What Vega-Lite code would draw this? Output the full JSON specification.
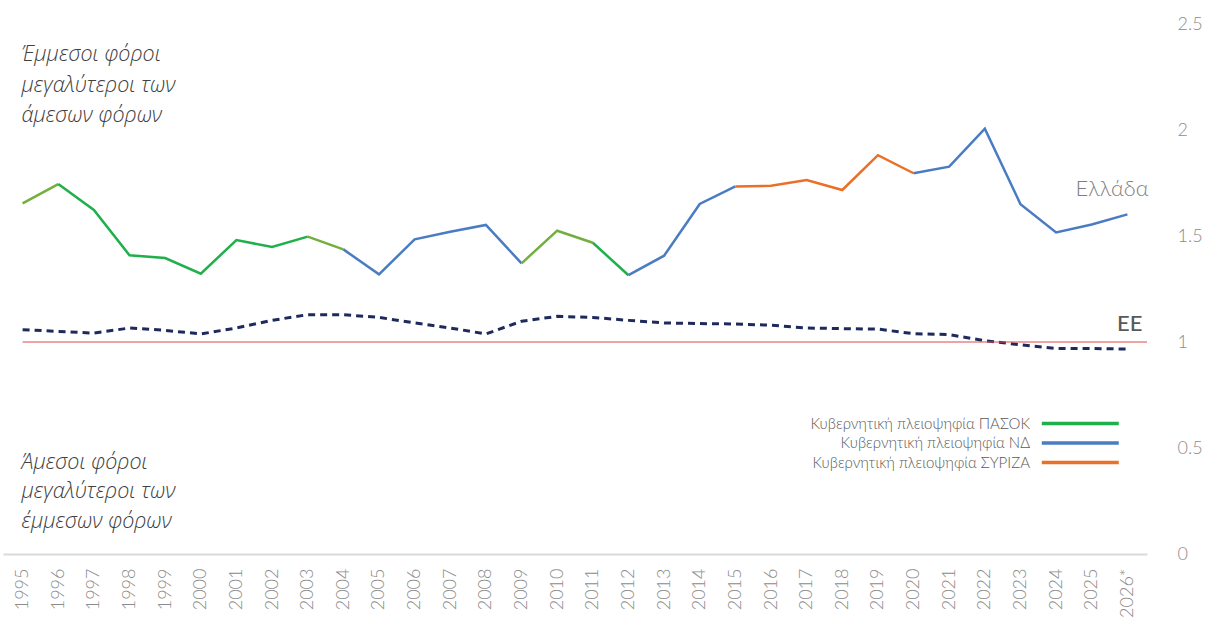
{
  "$schema": "https://vega.github.io/schema/vega-lite/v6.json",
  "width": 1144,
  "height": 530,
  "autosize": {"type": "none"},
  "padding": {"left": 3, "top": 24, "right": 68, "bottom": 67},
  "config": {"view": {"stroke": null}, "font": "Lato"},
  "datasets": {
    "greece": [
      {"year": "1995", "value": 1.654, "seg": "s1", "party": "μετάβαση"},
      {"year": "1996", "value": 1.745, "seg": "s1", "party": "μετάβαση"},
      {"year": "1996", "value": 1.745, "seg": "s2", "party": "ΠΑΣΟΚ"},
      {"year": "1997", "value": 1.623, "seg": "s2", "party": "ΠΑΣΟΚ"},
      {"year": "1998", "value": 1.409, "seg": "s2", "party": "ΠΑΣΟΚ"},
      {"year": "1999", "value": 1.396, "seg": "s2", "party": "ΠΑΣΟΚ"},
      {"year": "2000", "value": 1.322, "seg": "s2", "party": "ΠΑΣΟΚ"},
      {"year": "2001", "value": 1.481, "seg": "s2", "party": "ΠΑΣΟΚ"},
      {"year": "2002", "value": 1.448, "seg": "s2", "party": "ΠΑΣΟΚ"},
      {"year": "2003", "value": 1.497, "seg": "s2", "party": "ΠΑΣΟΚ"},
      {"year": "2003", "value": 1.497, "seg": "s3", "party": "μετάβαση"},
      {"year": "2004", "value": 1.437, "seg": "s3", "party": "μετάβαση"},
      {"year": "2004", "value": 1.437, "seg": "s4", "party": "ΝΔ"},
      {"year": "2005", "value": 1.319, "seg": "s4", "party": "ΝΔ"},
      {"year": "2006", "value": 1.484, "seg": "s4", "party": "ΝΔ"},
      {"year": "2007", "value": 1.520, "seg": "s4", "party": "ΝΔ"},
      {"year": "2008", "value": 1.552, "seg": "s4", "party": "ΝΔ"},
      {"year": "2009", "value": 1.371, "seg": "s4", "party": "ΝΔ"},
      {"year": "2009", "value": 1.371, "seg": "s5", "party": "μετάβαση"},
      {"year": "2010", "value": 1.525, "seg": "s5", "party": "μετάβαση"},
      {"year": "2011", "value": 1.468, "seg": "s5", "party": "μετάβαση"},
      {"year": "2011", "value": 1.468, "seg": "s6", "party": "ΠΑΣΟΚ"},
      {"year": "2012", "value": 1.315, "seg": "s6", "party": "ΠΑΣΟΚ"},
      {"year": "2012", "value": 1.315, "seg": "s7", "party": "ΝΔ"},
      {"year": "2013", "value": 1.407, "seg": "s7", "party": "ΝΔ"},
      {"year": "2014", "value": 1.651, "seg": "s7", "party": "ΝΔ"},
      {"year": "2015", "value": 1.734, "seg": "s7", "party": "ΝΔ"},
      {"year": "2015", "value": 1.734, "seg": "s8", "party": "ΣΥΡΙΖΑ"},
      {"year": "2016", "value": 1.737, "seg": "s8", "party": "ΣΥΡΙΖΑ"},
      {"year": "2017", "value": 1.764, "seg": "s8", "party": "ΣΥΡΙΖΑ"},
      {"year": "2018", "value": 1.717, "seg": "s8", "party": "ΣΥΡΙΖΑ"},
      {"year": "2019", "value": 1.881, "seg": "s8", "party": "ΣΥΡΙΖΑ"},
      {"year": "2020", "value": 1.796, "seg": "s8", "party": "ΣΥΡΙΖΑ"},
      {"year": "2020", "value": 1.796, "seg": "s9", "party": "ΝΔ"},
      {"year": "2021", "value": 1.827, "seg": "s9", "party": "ΝΔ"},
      {"year": "2022", "value": 2.006, "seg": "s9", "party": "ΝΔ"},
      {"year": "2023", "value": 1.650, "seg": "s9", "party": "ΝΔ"},
      {"year": "2024", "value": 1.517, "seg": "s9", "party": "ΝΔ"},
      {"year": "2025", "value": 1.554, "seg": "s9", "party": "ΝΔ"},
      {"year": "2026*", "value": 1.602, "seg": "s9", "party": "ΝΔ"}
    ],
    "eu": [
      {"year": "1995", "value": 1.058},
      {"year": "1996", "value": 1.050},
      {"year": "1997", "value": 1.042},
      {"year": "1998", "value": 1.066},
      {"year": "1999", "value": 1.055},
      {"year": "2000", "value": 1.038},
      {"year": "2001", "value": 1.066},
      {"year": "2002", "value": 1.102},
      {"year": "2003", "value": 1.129},
      {"year": "2004", "value": 1.129},
      {"year": "2005", "value": 1.116},
      {"year": "2006", "value": 1.090},
      {"year": "2007", "value": 1.066},
      {"year": "2008", "value": 1.038},
      {"year": "2009", "value": 1.098},
      {"year": "2010", "value": 1.121},
      {"year": "2011", "value": 1.116},
      {"year": "2012", "value": 1.102},
      {"year": "2013", "value": 1.090},
      {"year": "2014", "value": 1.087},
      {"year": "2015", "value": 1.085},
      {"year": "2016", "value": 1.079},
      {"year": "2017", "value": 1.066},
      {"year": "2018", "value": 1.063},
      {"year": "2019", "value": 1.061},
      {"year": "2020", "value": 1.039},
      {"year": "2021", "value": 1.035},
      {"year": "2022", "value": 1.006},
      {"year": "2023", "value": 0.987},
      {"year": "2024", "value": 0.969},
      {"year": "2025", "value": 0.969},
      {"year": "2026*", "value": 0.967}
    ]
  },
  "layer": [
    {
      "data": {"name": "eu"},
      "mark": {"type": "line", "color": "#1E2A5C", "strokeWidth": 3, "strokeDash": [7, 5]},
      "encoding": {
        "x": {
          "field": "year", "type": "ordinal",
          "scale": {"type": "point", "padding": 0.55},
          "axis": {
            "title": null, "labelAngle": -90, "labelAlign": "right", "labelBaseline": "middle",
            "labelPadding": 14, "labelFontSize": 18, "labelColor": "#8c8c8c", "labelFontWeight": 300,
            "ticks": false, "domainColor": "#d9d9d9", "domainWidth": 2, "grid": false
          }
        },
        "y": {
          "field": "value", "type": "quantitative",
          "scale": {"domain": [0, 2.5], "nice": false},
          "axis": {
            "orient": "right", "title": null, "values": [0, 0.5, 1, 1.5, 2, 2.5],
            "labelExpr": "'' + datum.value", "labelAlign": "left", "labelPadding": 30,
            "labelFontSize": 18, "labelColor": "#8c8c8c", "labelFontWeight": 300,
            "ticks": false, "domain": false, "grid": false
          }
        }
      }
    },
    {
      "data": {"values": [{}]},
      "mark": {"type": "rule", "color": "#E04848", "strokeWidth": 1.2},
      "encoding": {"x": {"datum": "1995"}, "x2": {"value": "width"}, "y": {"datum": 1}}
    },
    {
      "data": {"name": "greece"},
      "mark": {"type": "line", "strokeWidth": 2.5},
      "encoding": {
        "x": {"field": "year", "type": "ordinal"},
        "y": {"field": "value", "type": "quantitative"},
        "detail": {"field": "seg"},
        "color": {
          "field": "party", "type": "nominal",
          "scale": {"domain": ["ΠΑΣΟΚ", "ΝΔ", "ΣΥΡΙΖΑ", "μετάβαση"], "range": ["#20B04B", "#4A7CC2", "#E97026", "#72AF3E"]},
          "legend": {
            "values": ["ΠΑΣΟΚ", "ΝΔ", "ΣΥΡΙΖΑ"], "title": null,
            "labelExpr": "'Κυβερνητική πλειοψηφία ' + datum.label",
            "orient": "none", "legendX": 1037, "legendY": 390,
            "symbolType": "M-1,0H9", "symbolSize": 237, "symbolStrokeWidth": 3.5,
            "labelAlign": "right", "labelOffset": -29, "labelFontSize": 15, "labelFontWeight": 300, "labelColor": "#595959",
            "labelLimit": 400, "rowPadding": 1.5
          }
        }
      }
    },
    {
      "data": {"values": [{}]},
      "mark": {"type": "text", "align": "left", "baseline": "alphabetic", "font": "Open Sans", "fontSize": 21.5, "fontStyle": "italic", "fontWeight": 300, "color": "#404040", "lineHeight": 30.5, "dx": -1},
      "encoding": {"x": {"datum": "1995"}, "y": {"datum": 2.325}, "text": {"value": ["Έμμεσοι φόροι", "μεγαλύτεροι των", "άμεσων φόρων"]}}
    },
    {
      "data": {"values": [{}]},
      "mark": {"type": "text", "align": "left", "baseline": "alphabetic", "font": "Open Sans", "fontSize": 21.5, "fontStyle": "italic", "fontWeight": 300, "color": "#404040", "lineHeight": 29.5, "dx": -1},
      "encoding": {"x": {"datum": "1995"}, "y": {"datum": 0.401}, "text": {"value": ["Άμεσοι φόροι", "μεγαλύτεροι των", "έμμεσων φόρων"]}}
    },
    {
      "data": {"values": [{}]},
      "mark": {"type": "text", "align": "right", "baseline": "alphabetic", "fontSize": 22, "fontWeight": 300, "color": "#7f7f7f", "dx": 21},
      "encoding": {"x": {"datum": "2026*"}, "y": {"datum": 1.689}, "text": {"value": "Ελλάδα"}}
    },
    {
      "data": {"values": [{}]},
      "mark": {"type": "text", "align": "right", "baseline": "alphabetic", "fontSize": 22, "fontWeight": 500, "color": "#595959", "dx": 15},
      "encoding": {"x": {"datum": "2026*"}, "y": {"datum": 1.052}, "text": {"value": "EE"}}
    }
  ]
}
